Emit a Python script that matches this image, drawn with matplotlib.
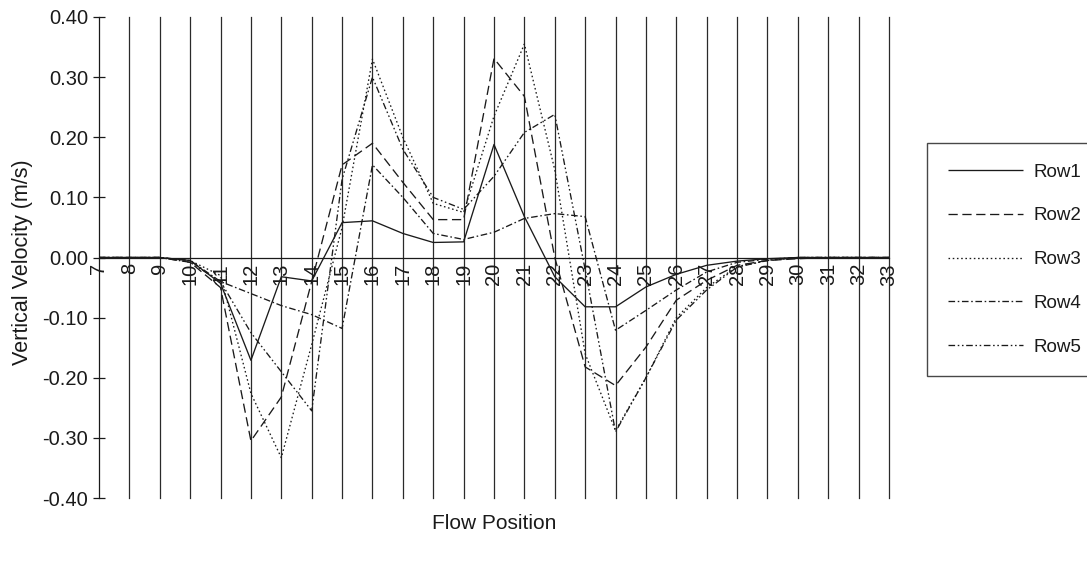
import matplotlib
matplotlib.use("Agg")
import matplotlib.pyplot as plt

plt.rcParams['font.family'] = ['Liberation Sans', 'DejaVu Sans']
plt.rcParams['axes.unicode_minus'] = False

# Flow positions along the channel
positions = list(range(7, 34))

# Vertical velocity (m/s) for each measurement row
row1 = [0, 0, 0, -0.005, -0.043, -0.171, -0.032, -0.039, 0.058, 0.061, 0.040, 0.025, 0.026,
        0.188, 0.068, -0.032, -0.082, -0.082, -0.049, -0.028, -0.013, -0.006, -0.002, 0, 0, 0, 0]
row2 = [0, 0, 0, -0.008, -0.050, -0.305, -0.232, -0.040, 0.154, 0.190, 0.125, 0.063, 0.063,
        0.331, 0.268, 0.000, -0.182, -0.213, -0.149, -0.071, -0.038, -0.013, -0.005, -0.002, 0, 0, 0]
row3 = [0, 0, 0, -0.005, -0.030, -0.226, -0.333, -0.145, 0.050, 0.330, 0.200, 0.090, 0.075,
        0.235, 0.355, 0.146, -0.160, -0.288, -0.200, -0.100, -0.050, -0.015, -0.005, 0, 0, 0, 0]
row4 = [0, 0, 0, -0.005, -0.040, -0.060, -0.080, -0.095, -0.118, 0.154, 0.100, 0.040, 0.030,
        0.042, 0.065, 0.073, 0.068, -0.121, -0.088, -0.054, -0.024, -0.008, -0.003, 0, 0, 0, 0]
row5 = [0, 0, 0, -0.008, -0.040, -0.125, -0.190, -0.255, 0.130, 0.300, 0.180, 0.100, 0.080,
        0.135, 0.208, 0.238, -0.020, -0.290, -0.200, -0.104, -0.054, -0.016, -0.005, 0, 0, 0, 0]

series = [("Row1", row1), ("Row2", row2), ("Row3", row3), ("Row4", row4), ("Row5", row5)]
dash_styles = [
    (0, ()),
    (0, (7, 3.5)),
    (0, (1.2, 2.0)),
    (0, (5, 2, 1.2, 2)),
    (0, (5, 2, 1.2, 2, 1.2, 2)),
]

W, H = 1087, 562
fig = plt.figure(figsize=(W / 100, H / 100), dpi=100)
left, right, top, bottom = 99, 889, 17, 498
ax = fig.add_axes([left / W, 1 - bottom / H, (right - left) / W, (bottom - top) / H])

ink = "#1a1a1a"

# x axis runs along zero velocity
ax.spines['bottom'].set_position(('data', 0))
ax.spines['bottom'].set_color(ink)
ax.spines['bottom'].set_linewidth(0.9)
ax.spines['left'].set_color(ink)
ax.spines['left'].set_linewidth(0.9)
ax.spines['top'].set_visible(False)
ax.spines['right'].set_visible(False)

for (name, vals), ls in zip(series, dash_styles):
    ax.plot(positions, vals, color=ink, lw=0.95, linestyle=ls, label=name,
            dash_capstyle='butt', solid_joinstyle='miter')

ax.set_xlim(7, 33)
ax.set_ylim(-0.4, 0.4)

# vertical gridlines at every flow position
for p in positions[1:]:
    ax.axvline(p, color="#2a2a2a", lw=0.9, zorder=0, clip_on=False)

yticks = [-0.4, -0.3, -0.2, -0.1, 0.0, 0.1, 0.2, 0.3, 0.4]
ax.set_yticks(yticks)
ax.set_yticklabels([f"{v:.2f}" for v in yticks])
ax.tick_params(axis='y', direction='inout', length=8, width=0.9, color=ink,
               labelsize=14.5, labelcolor=ink, pad=4)

ax.set_xticks(positions)
ax.set_xticklabels([str(p) for p in positions], rotation=90)
ax.tick_params(axis='x', length=0, labelsize=14.5, labelcolor=ink, pad=4)

ax.set_ylabel("Vertical Velocity (m/s)", fontsize=15.5, color=ink)
ax.yaxis.set_label_coords(-0.083, 0.49)
ax.text(0.5, -0.052, "Flow Position", transform=ax.transAxes, ha='center', va='center',
        fontsize=15, color=ink)

pw, ph = right - left, bottom - top
leg = ax.legend(loc='upper left',
                bbox_to_anchor=((927 - left) / pw, (bottom - 378) / ph,
                                (1095 - 927) / pw, (378 - 143) / ph),
                mode='expand', frameon=True, fancybox=False, edgecolor=ink,
                fontsize=13.5, handlelength=4.0, handletextpad=0.6, labelspacing=1.42,
                borderpad=1.1, borderaxespad=0)
leg.get_frame().set_linewidth(1.0)
for t in leg.get_texts():
    t.set_color(ink)

fig.savefig("out.png", dpi=100, facecolor="white")
